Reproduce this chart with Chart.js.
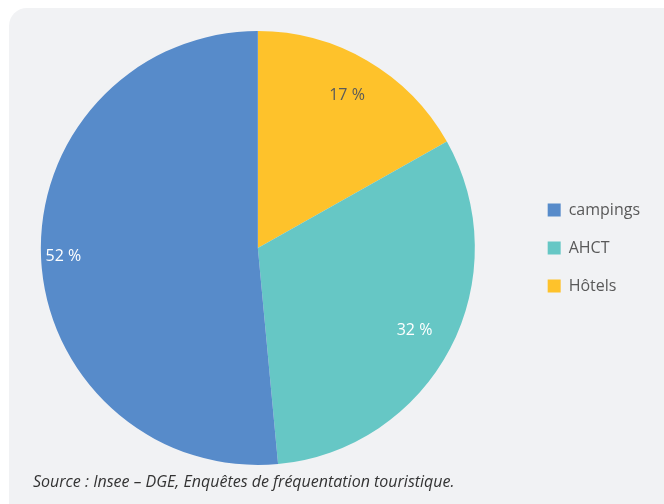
<!DOCTYPE html>
<html>
<head>
<meta charset="utf-8">
<script src="https://cdn.jsdelivr.net/npm/chart.js@4/dist/chart.umd.min.js"></script>
<style>
  html, body { margin: 0; padding: 0; background: #ffffff; width: 664px; height: 504px; overflow: hidden; }
  #card { position: absolute; left: 9px; top: 8px; width: 700px; height: 540px; background: #f1f2f4; border-radius: 18px; }
  #wrap { position: absolute; left: -10px; top: 0; width: 674px; height: 504px; }
  #source { position: absolute; left: 33px; top: 470px; font-family: "Open Sans", sans-serif; font-style: italic; font-size: 16px; line-height: 22px; color: #333333; white-space: nowrap; }
</style>
</head>
<body>
<div id="card"></div>
<div id="wrap"><canvas id="c" width="674" height="504"></canvas></div>
<div id="source">Source : Insee – DGE, Enquêtes de fréquentation touristique.</div>
<script>
// Slices in clockwise order from 12 o'clock
const categories = ['Hôtels', 'AHCT', 'campings'];
const shares = [17, 32, 52];
const shareLabels = ['17 %', '32 %', '52 %'];
const colors = ['#fec22b', '#66c7c5', '#578bca'];
const labelColors = ['#5a5a5a', '#ffffff', '#ffffff'];

const sliceLabels = {
  id: 'sliceLabels',
  afterDatasetsDraw(chart) {
    const ctx = chart.ctx;
    const meta = chart.getDatasetMeta(0);
    ctx.save();
    ctx.font = '16px "Open Sans"';
    ctx.textBaseline = 'middle';
    meta.data.forEach((arc, i) => {
      const p = arc.getProps(['x', 'y', 'startAngle', 'endAngle', 'outerRadius'], true);
      const mid = (p.startAngle + p.endAngle) / 2;
      const r = p.outerRadius * 0.815;
      const x = p.x + Math.cos(mid) * r;
      const y = p.y + Math.sin(mid) * r;
      ctx.textAlign = x < p.x - 20 ? 'right' : 'center';
      ctx.fillStyle = labelColors[i];
      ctx.fillText(shareLabels[i], x, y);
    });
    ctx.restore();
  }
};

new Chart(document.getElementById('c'), {
  type: 'pie',
  data: {
    labels: categories,
    datasets: [{
      data: shares,
      backgroundColor: colors,
      borderWidth: 0
    }]
  },
  options: {
    responsive: false,
    animation: false,
    layout: { padding: { left: 0, top: 31, bottom: 39, right: 14 } },
    plugins: {
      tooltip: { enabled: false },
      legend: {
        position: 'right',
        reverse: true,
        labels: {
          boxWidth: 13,
          boxHeight: 13,
          padding: 22,
          color: '#595959',
          font: { family: '"Open Sans"', size: 16 }
        }
      }
    }
  },
  plugins: [sliceLabels]
});
</script>
</body>
</html>
